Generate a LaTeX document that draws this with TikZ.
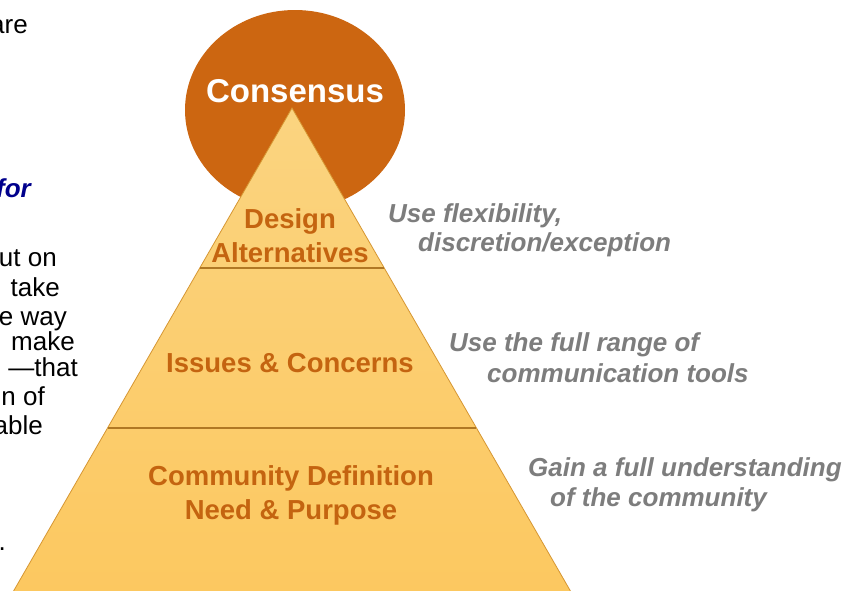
\documentclass[tikz,border=0pt]{standalone}
\usepackage{fontspec}
\setmainfont{Liberation Sans}
\usetikzlibrary{calc}
\definecolor{circ}{RGB}{204,102,17}
\definecolor{tri}{RGB}{252,200,96}
\definecolor{tritop}{RGB}{251,212,128}
\definecolor{triedge}{RGB}{214,150,50}
\definecolor{divider}{RGB}{176,120,36}
\definecolor{tritext}{RGB}{196,100,16}
\definecolor{note}{RGB}{125,125,125}
\definecolor{navy}{RGB}{0,0,140}
\tikzset{
  layertext/.style={text=tritext,font=\bfseries\fontsize{27.5}{34}\selectfont,align=center,inner sep=0pt},
  notetext/.style={text=note,font=\bfseries\itshape\fontsize{26}{30}\selectfont,anchor=base west,inner sep=0pt},
  bodytext/.style={text=black,font=\fontsize{26}{30}\selectfont,anchor=base east,inner sep=0pt},
}
\begin{document}
\begin{tikzpicture}[x=1pt,y=-1pt]
\useasboundingbox (0,0) rectangle (860,590);
\clip (0,0) rectangle (860,590);
\fill[white] (0,0) rectangle (860,590);
% left body text fragments
\node[bodytext] (t1) at (28,33) {are};
\node[bodytext,text=navy,font=\bfseries\itshape\fontsize{26}{30}\selectfont] (t2) at (31,197) {for};
\node[bodytext] (t3) at (57,266) {ut on};
\node[bodytext] (t4) at (60,296) {take};
\node[bodytext] (t5) at (67,325) {e way};
\node[bodytext] (t6) at (75,350) {make};
\node[bodytext] (t7) at (78,376) {—that};
\node[bodytext] (t8) at (45,405) {n of};
\node[bodytext] (t9) at (43,434) {able};
\node[bodytext] (t10) at (6,550) {.};
% consensus circle
\fill[circ] (295,110) ellipse [x radius=110, y radius=100];
\node[text=white,font=\bfseries\fontsize{33}{36}\selectfont,inner sep=0pt,anchor=base] (cons) at (295,102) {Consensus};
% pyramid
\coordinate (apex) at (292,108);
\coordinate (bl) at (13,592);
\coordinate (br) at (571,592);
\shade[top color=tritop,bottom color=tri,draw=triedge,line width=0.8pt] (apex) -- (br) -- (bl) -- cycle;
\draw[divider,line width=1.3pt] ($(apex)!0.3306!(bl)$) coordinate (d1l) -- ($(apex)!0.3306!(br)$) coordinate (d1r);
\draw[divider,line width=1.3pt] ($(apex)!0.6612!(bl)$) coordinate (d2l) -- ($(apex)!0.6612!(br)$) coordinate (d2r);
\node[layertext] (l1) at (290,236) {Design\\Alternatives};
\node[layertext] (l2) at (290,363) {Issues \& Concerns};
\node[layertext] (l3) at (291,495) {Community Definition\\Need \& Purpose};
% notes
\node[notetext] (n1a) at (388,222) {Use flexibility,};
\node[notetext] (n1b) at (418,251) {discretion/exception};
\node[notetext] (n2a) at (449,351) {Use the full range of};
\node[notetext] (n2b) at (487,382) {communication tools};
\node[notetext] (n3a) at (528,476) {Gain a full understanding};
\node[notetext] (n3b) at (550,506) {of the community};
\end{tikzpicture}
\end{document}
